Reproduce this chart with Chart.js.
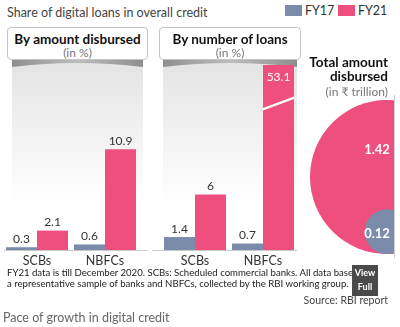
<!DOCTYPE html>
<html><head><meta charset="utf-8">
<script src="https://cdn.jsdelivr.net/npm/chart.js@4"></script>
<style>
body{margin:0;width:400px;height:327px;background:#fff;position:relative;overflow:hidden;font-family:Lato,"Open Sans",sans-serif;color:#222}
.t{position:absolute;white-space:nowrap;line-height:1}
canvas{position:absolute}
.box{position:absolute;box-sizing:border-box;border:1px solid #c4c4c4;border-radius:4px;background:#fff;text-align:center}
.box b{display:block;font-size:13.5px;color:#111;margin-top:4px;line-height:15px}
.box span{display:block;font-size:12px;color:#777;line-height:12px}
.sw{position:absolute;width:17px;height:11px}
</style></head><body>
<div class="t" style="left:7px;top:7px;font-size:12.5px;color:#444">Share of digital loans in overall credit</div>
<div class="sw" style="left:285px;top:5px;background:#7b8baa"></div>
<div class="t" style="left:305px;top:5px;font-size:12.5px;color:#333">FY17</div>
<div class="sw" style="left:338px;top:5px;background:#ee4f7e"></div>
<div class="t" style="left:358px;top:5px;font-size:12.5px;color:#333">FY21</div>

<canvas id="c1" width="150" height="212" style="left:0;top:60px"></canvas>
<canvas id="c2" width="150" height="212" style="left:150px;top:60px"></canvas>
<canvas id="c3" width="94" height="160" style="left:300px;top:94px"></canvas>

<div class="box" style="left:7px;top:27px;width:141px;height:33px"><b>By amount disbursed</b><span>(in %)</span></div>
<div class="box" style="left:159px;top:27px;width:142px;height:33px"><b>By number of loans</b><span>(in %)</span></div>

<div class="t" style="right:12px;top:56px;font-size:13.5px;font-weight:bold;color:#111">Total amount</div>
<div class="t" style="right:12px;top:70px;font-size:13.5px;font-weight:bold;color:#111">disbursed</div>
<div class="t" style="right:12px;top:86px;font-size:12px;color:#777">(in ₹ trillion)</div>
<div style="position:absolute;left:394px;top:95px;width:1px;height:163px;background:#d0d0d0"></div>

<div class="t" style="left:7px;top:268px;font-size:9.6px;color:#222">FY21 data is till December 2020. SCBs: Scheduled commercial banks. All data based on</div>
<div class="t" style="left:7px;top:279px;font-size:9.6px;color:#222">a representative sample of banks and NBFCs, collected by the RBI working group.</div>
<div style="position:absolute;left:352px;top:265px;width:26px;height:31px;background:#4a4a4a;color:#fff;font-weight:bold;font-size:9px;line-height:14px;text-align:center;padding-top:1px;box-sizing:border-box">View<br>Full</div>
<div class="t" style="right:12px;top:295px;font-size:10.5px;color:#444">Source: RBI report</div>
<div class="t" style="left:3px;top:312px;font-size:12.5px;color:#666">Pace of growth in digital credit</div>

<script>
const categories = ['SCBs', 'NBFCs'];
const seriesNames = ['FY17', 'FY21'];
const amountFY17 = [0.3, 0.6];
const amountFY21 = [2.1, 10.9];
const loansFY17 = [1.4, 0.7];
const loansFY21 = [6, 53.1];
const totalNames = ['FY17', 'FY21'];
const totalValues = [0.12, 1.42];
const yMax = 20;

const C17 = '#7b8baa', C21 = '#ee4f7e';

function decor(px0, px1, lx0, lx1) {
  return {
    id: 'decor',
    beforeDatasetsDraw(chart) {
      const {ctx, chartArea} = chart;
      ctx.save();
      const g = ctx.createLinearGradient(0, 0, 0, chartArea.bottom);
      g.addColorStop(0, '#e3e3e3');
      g.addColorStop(0.75, '#ffffff');
      ctx.fillStyle = g;
      ctx.fillRect(px0, 0, px1 - px0, chartArea.bottom);
      const h = ctx.createLinearGradient(px0, 0, px1, 0);
      h.addColorStop(0, '#8e8e8e'); h.addColorStop(0.5, '#bdbdbd'); h.addColorStop(1, '#8e8e8e');
      ctx.fillStyle = h;
      ctx.beginPath();
      ctx.moveTo(px0, 0); ctx.lineTo(px1, 0); ctx.lineTo(px1, 7);
      ctx.quadraticCurveTo((px0 + px1) / 2, -1, px0, 7);
      ctx.closePath(); ctx.fill();
      ctx.restore();
    },
    afterDatasetsDraw(chart) {
      const {ctx, chartArea} = chart;
      ctx.save();
      ctx.strokeStyle = '#c8c8c8'; ctx.lineWidth = 1;
      ctx.beginPath(); ctx.moveTo(lx0, chartArea.bottom + 0.5); ctx.lineTo(lx1, chartArea.bottom + 0.5); ctx.stroke();
      chart.data.datasets.forEach((ds, di) => {
        chart.getDatasetMeta(di).data.forEach((bar, i) => {
          const v = ds.data[i];
          ctx.font = '12px Lato, sans-serif';
          ctx.textAlign = 'center'; ctx.textBaseline = 'middle';
          if (bar.y < chartArea.top) {
            const half = bar.width / 2, yb = chartArea.top + 38;
            ctx.save();
            ctx.beginPath(); ctx.rect(bar.x - half, chartArea.top, bar.width, chartArea.bottom - chartArea.top); ctx.clip();
            ctx.strokeStyle = '#fff'; ctx.lineWidth = 2.5;
            ctx.beginPath(); ctx.moveTo(bar.x - half - 2, yb + 7); ctx.lineTo(bar.x + half + 2, yb - 6); ctx.stroke();
            ctx.restore();
            ctx.fillStyle = '#fff';
            ctx.fillText(String(v), bar.x, chartArea.top + 12);
          } else {
            ctx.fillStyle = '#333';
            ctx.fillText(String(v), bar.x, bar.y - 8);
          }
        });
      });
      ctx.restore();
    }
  };
}

function barChart(id, d17, d21, pad, plug) {
  return new Chart(document.getElementById(id), {
    type: 'bar',
    data: {
      labels: categories,
      datasets: [
        {label: seriesNames[0], data: d17, backgroundColor: C17, clip: 0},
        {label: seriesNames[1], data: d21, backgroundColor: C21, clip: 0}
      ]
    },
    options: {
      responsive: false, animation: false, devicePixelRatio: 1,
      layout: {padding: pad},
      categoryPercentage: 0.912, barPercentage: 1,
      plugins: {legend: {display: false}, tooltip: {enabled: false}},
      scales: {
        x: {grid: {display: false, drawTicks: false}, border: {display: false},
            ticks: {color: '#333', font: {family: 'Lato', size: 12.5}, padding: 3},
            afterFit: s => { s.height = 20; }},
        y: {display: false, min: 0, max: yMax}
      }
    },
    plugins: [plug]
  });
}

barChart('c1', amountFY17, amountFY21, {left: 3, right: 11, top: 5, bottom: 2}, decor(12, 143, 4, 147));
barChart('c2', loansFY17, loansFY21, {left: 11, right: 3, top: 5, bottom: 2}, decor(13, 147, 2, 147));

const R = 77;
const vmax = Math.max(...totalValues);
const bubbles = totalValues.map(v => {
  const r = R * Math.sqrt(v / vmax);
  return {x: 0, y: r, r: r};
});
new Chart(document.getElementById('c3'), {
  type: 'bubble',
  data: {
    datasets: [
      {label: totalNames[0], data: [bubbles[0]], backgroundColor: C17, borderWidth: 0, clip: false},
      {label: totalNames[1], data: [bubbles[1]], backgroundColor: C21, borderWidth: 0, clip: false}
    ]
  },
  options: {
    responsive: false, animation: false, devicePixelRatio: 1,
    layout: {padding: 0, autoPadding: false},
    plugins: {legend: {display: false}, tooltip: {enabled: false}},
    scales: {x: {type: 'linear', display: false, min: -87, max: 7}, y: {type: 'linear', display: false, min: 0, max: 160}}
  },
  plugins: [{
    id: 'blabels',
    afterDatasetsDraw(chart) {
      const ctx = chart.ctx;
      ctx.save();
      ctx.fillStyle = '#fff'; ctx.font = 'bold 13px Lato, sans-serif';
      ctx.textAlign = 'center'; ctx.textBaseline = 'middle';
      chart.data.datasets.forEach((ds, di) => {
        const p = chart.getDatasetMeta(di).data[0];
        const big = ds.data[0].r > 40;
        ctx.fillText(totalValues[di].toFixed(2), p.x - 10, big ? p.y - 27 : p.y + 2);
      });
      ctx.restore();
    }
  }]
});
</script>
</body></html>
